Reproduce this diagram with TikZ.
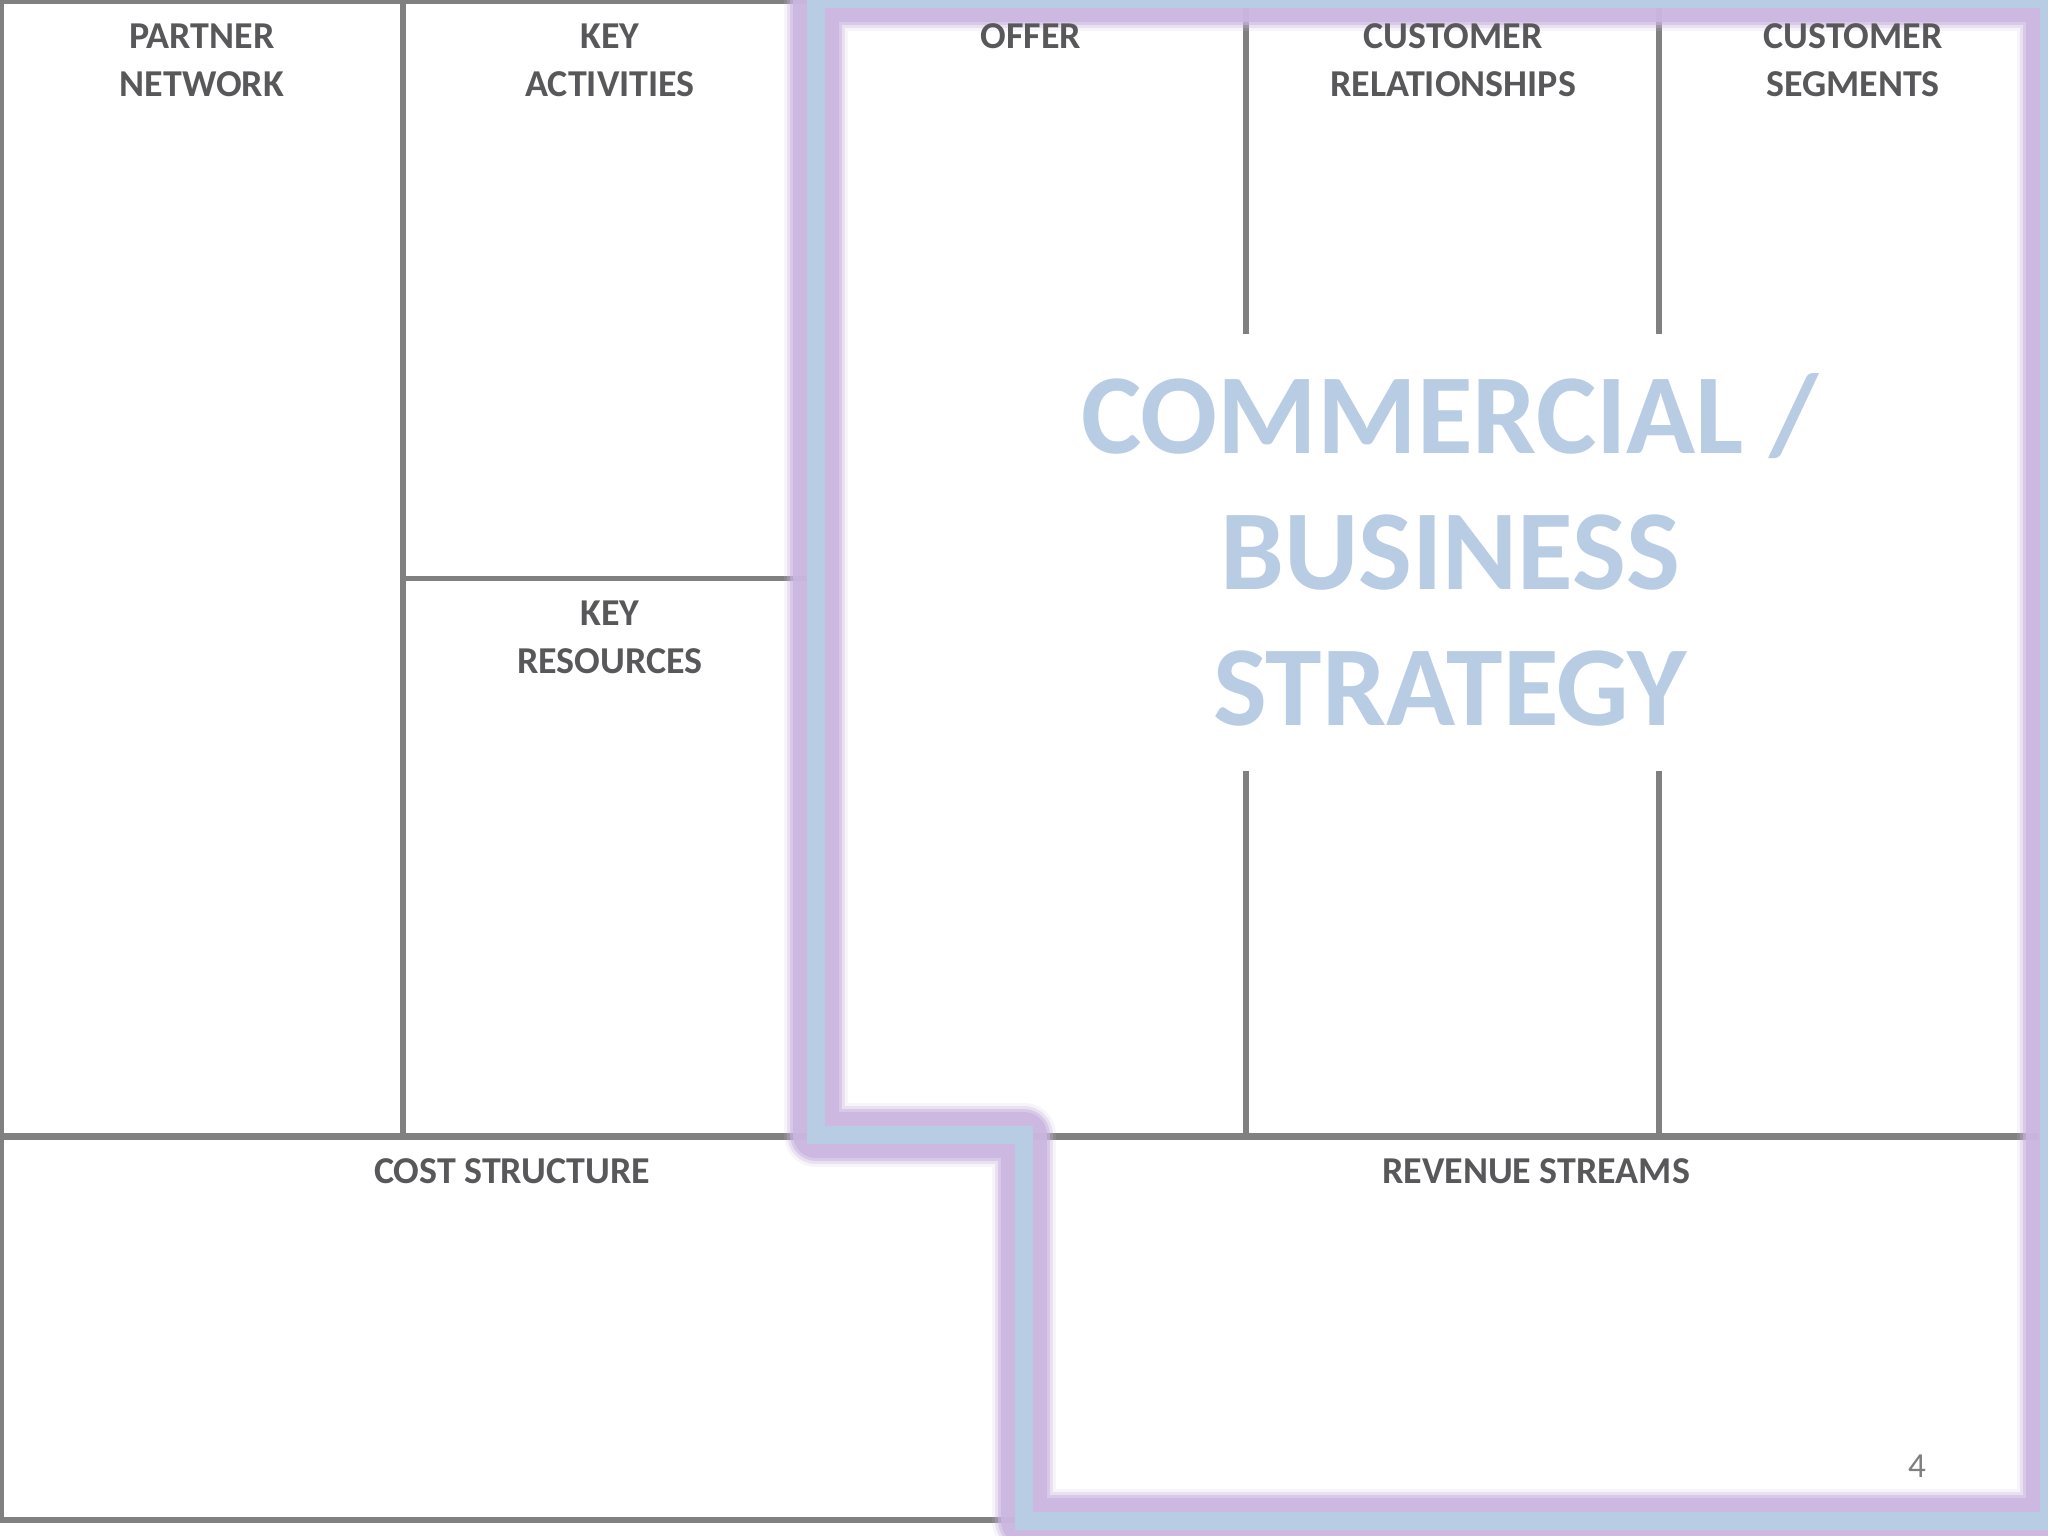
\documentclass[tikz,border=0pt]{standalone}
\usepackage{fontspec}
\setmainfont{Carlito}
\usepackage{tikz}
\definecolor{gridgray}{HTML}{808080}
\definecolor{textgray}{HTML}{58585A}
\definecolor{numgray}{HTML}{7F7F7F}
\definecolor{bandblue}{HTML}{B8CCE4}
\definecolor{bandpurple}{HTML}{CBB7E1}
\tikzset{
	gridline/.style = {draw=gridgray, line width=1.7pt},
	boxtitle/.style = {anchor=north, inner sep=0pt, align=center,
		text=textgray, font=\fontsize{10.8}{13.7}\selectfont\bfseries},
	bigtitle/.style = {anchor=north, inner sep=0pt, align=center,
		text=bandblue, font=\fontsize{32.4}{38.7}\selectfont\bfseries},
	pagenum/.style  = {inner sep=0pt, text=numgray, font=\fontsize{10}{12}\selectfont}
}
\newcommand{\bandpath}{(816,-1) -- (816,1135) -- (1024,1135) -- (1024,1521)
	-- (2049,1521) -- (2049,-1) -- cycle}

\begin{document}
\begin{tikzpicture}
	[
	x = 0.01cm,
	y = -0.01cm
	]
	\useasboundingbox[fill=white] (0,0) rectangle (2048,1536);
	% canvas grid
	\draw[gridline] (0,1.5) -- (816,1.5);
	\draw[gridline] (1.5,0) -- (1.5,1521);
	\draw[gridline] (403,0) -- (403,1136);
	\draw[gridline] (403,578.5) -- (809,578.5);
	\draw[gridline, line width=2pt] (0,1136.5) -- (2039,1136.5);
	\draw[gridline] (0,1520) -- (1023,1520);
	\foreach \xx in {1245.5, 1659} {
		\draw[gridline] (\xx,8) -- (\xx,334);
		\draw[gridline] (\xx,771) -- (\xx,1136);
	}
	% highlighted area
	\begin{scope}
		\clip (0,0) rectangle (2048,1536);
		\foreach \w/\o in {64/0.15, 58/0.3, 52/0.55, 46/0.9}
			\draw[bandpurple, line width=\w*0.2845pt, opacity=\o, line join=round] \bandpath;
		\draw[bandblue, line width=4.9pt, line join=miter] \bandpath;
	\end{scope}
	% box titles
	\node[boxtitle] (partners) at (202,23) {PARTNER\\NETWORK};
	\node[boxtitle] (activities) at (610,23) {KEY\\ACTIVITIES};
	\node[boxtitle] (resources) at (610,600) {KEY\\RESOURCES};
	\node[boxtitle] (offer) at (1031,23) {OFFER};
	\node[boxtitle] (relations) at (1453,23) {CUSTOMER\\RELATIONSHIPS};
	\node[boxtitle] (segments) at (1853,23) {CUSTOMER\\SEGMENTS};
	\node[boxtitle] (costs) at (512,1158) {COST STRUCTURE};
	\node[boxtitle] (revenue) at (1536,1158) {REVENUE STREAMS};
	\node[bigtitle] (strategy) at (1450,373) {COMMERCIAL /\\BUSINESS\\STRATEGY};
	\node[pagenum] (page) at (1917,1466) {4};
\end{tikzpicture}
\end{document}
